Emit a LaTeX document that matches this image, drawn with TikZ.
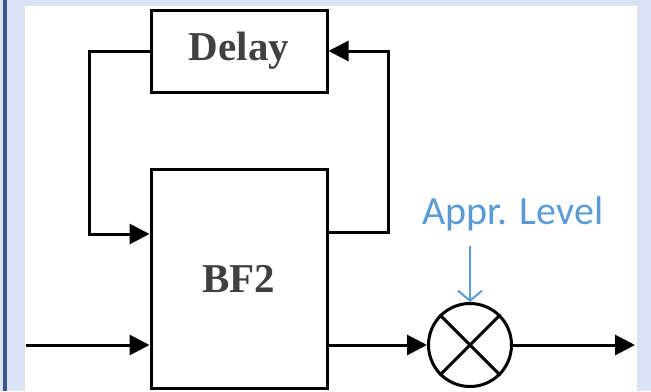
\documentclass[tikz,border=0pt]{standalone}
\usepackage{fontspec}
\setmainfont{Liberation Serif}
\newfontfamily\lblfont{Carlito}
\usetikzlibrary{arrows.meta}

\definecolor{pagebg}{RGB}{218,227,243}
\definecolor{edgeblue}{RGB}{62,84,140}
\definecolor{txtgray}{RGB}{64,64,64}
\definecolor{lvlblue}{RGB}{91,155,213}

\tikzset{
  block/.style={draw=black, line width=1.5pt, fill=white, inner sep=0pt,
    font=\fontsize{20.5}{24}\selectfont\bfseries, text=txtgray},
  sig/.style={line width=1.5pt, -{Triangle[length=10pt,width=10pt]}},
  ctl/.style={draw=lvlblue, line width=1pt, -{Straight Barb[length=5pt,width=12pt]}},
}

\begin{document}
\begin{tikzpicture}[x=0.5pt,y=-0.5pt]
        % page frame
        \fill[pagebg] (0,0) rectangle (651,391);
        \fill[white] (25,6) rectangle (637,391);
        \fill[edgeblue] (3,0) rectangle (7,391);
        \useasboundingbox (0,0) rectangle (651,391);

        % blocks
        \node[block, minimum width=88pt, minimum height=41pt] (delay) at (239,51) {Delay};
        \node[block, minimum width=88pt, minimum height=109.5pt] (bf) at (239,278.5) {BF2};
        \node[circle, draw, line width=1.5pt, inner sep=0pt, minimum size=41.5pt] (mult) at (470,345) {};
        \draw[line width=1.5pt] (mult.north west) -- (mult.south east)
                                (mult.north east) -- (mult.south west);

        % free ends
        \coordinate (fbL) at (89,234);
        \coordinate (fbR) at (388,232);
        \coordinate (in) at (26,345);
        \coordinate (out) at (635,345);
        \coordinate (lvlTop) at (470,246);

        % feedback loop
        \draw[sig] (delay.west) -| (fbL) -- (fbL -| bf.west);
        \draw[sig] (bf.east |- fbR) -- (fbR) |- (delay.east);

        % main path
        \draw[sig] (in) -- (in -| bf.west);
        \draw[sig] (bf.east |- mult) -- (mult);
        \draw[sig] (mult) -- (out);

        % level input
        \node[anchor=base, font=\lblfont\fontsize{20}{24}\selectfont, text=lvlblue] (lvl) at (513,224) {Appr. Level};
        \draw[ctl] (lvlTop) -- (mult.north);
\end{tikzpicture}
\end{document}
